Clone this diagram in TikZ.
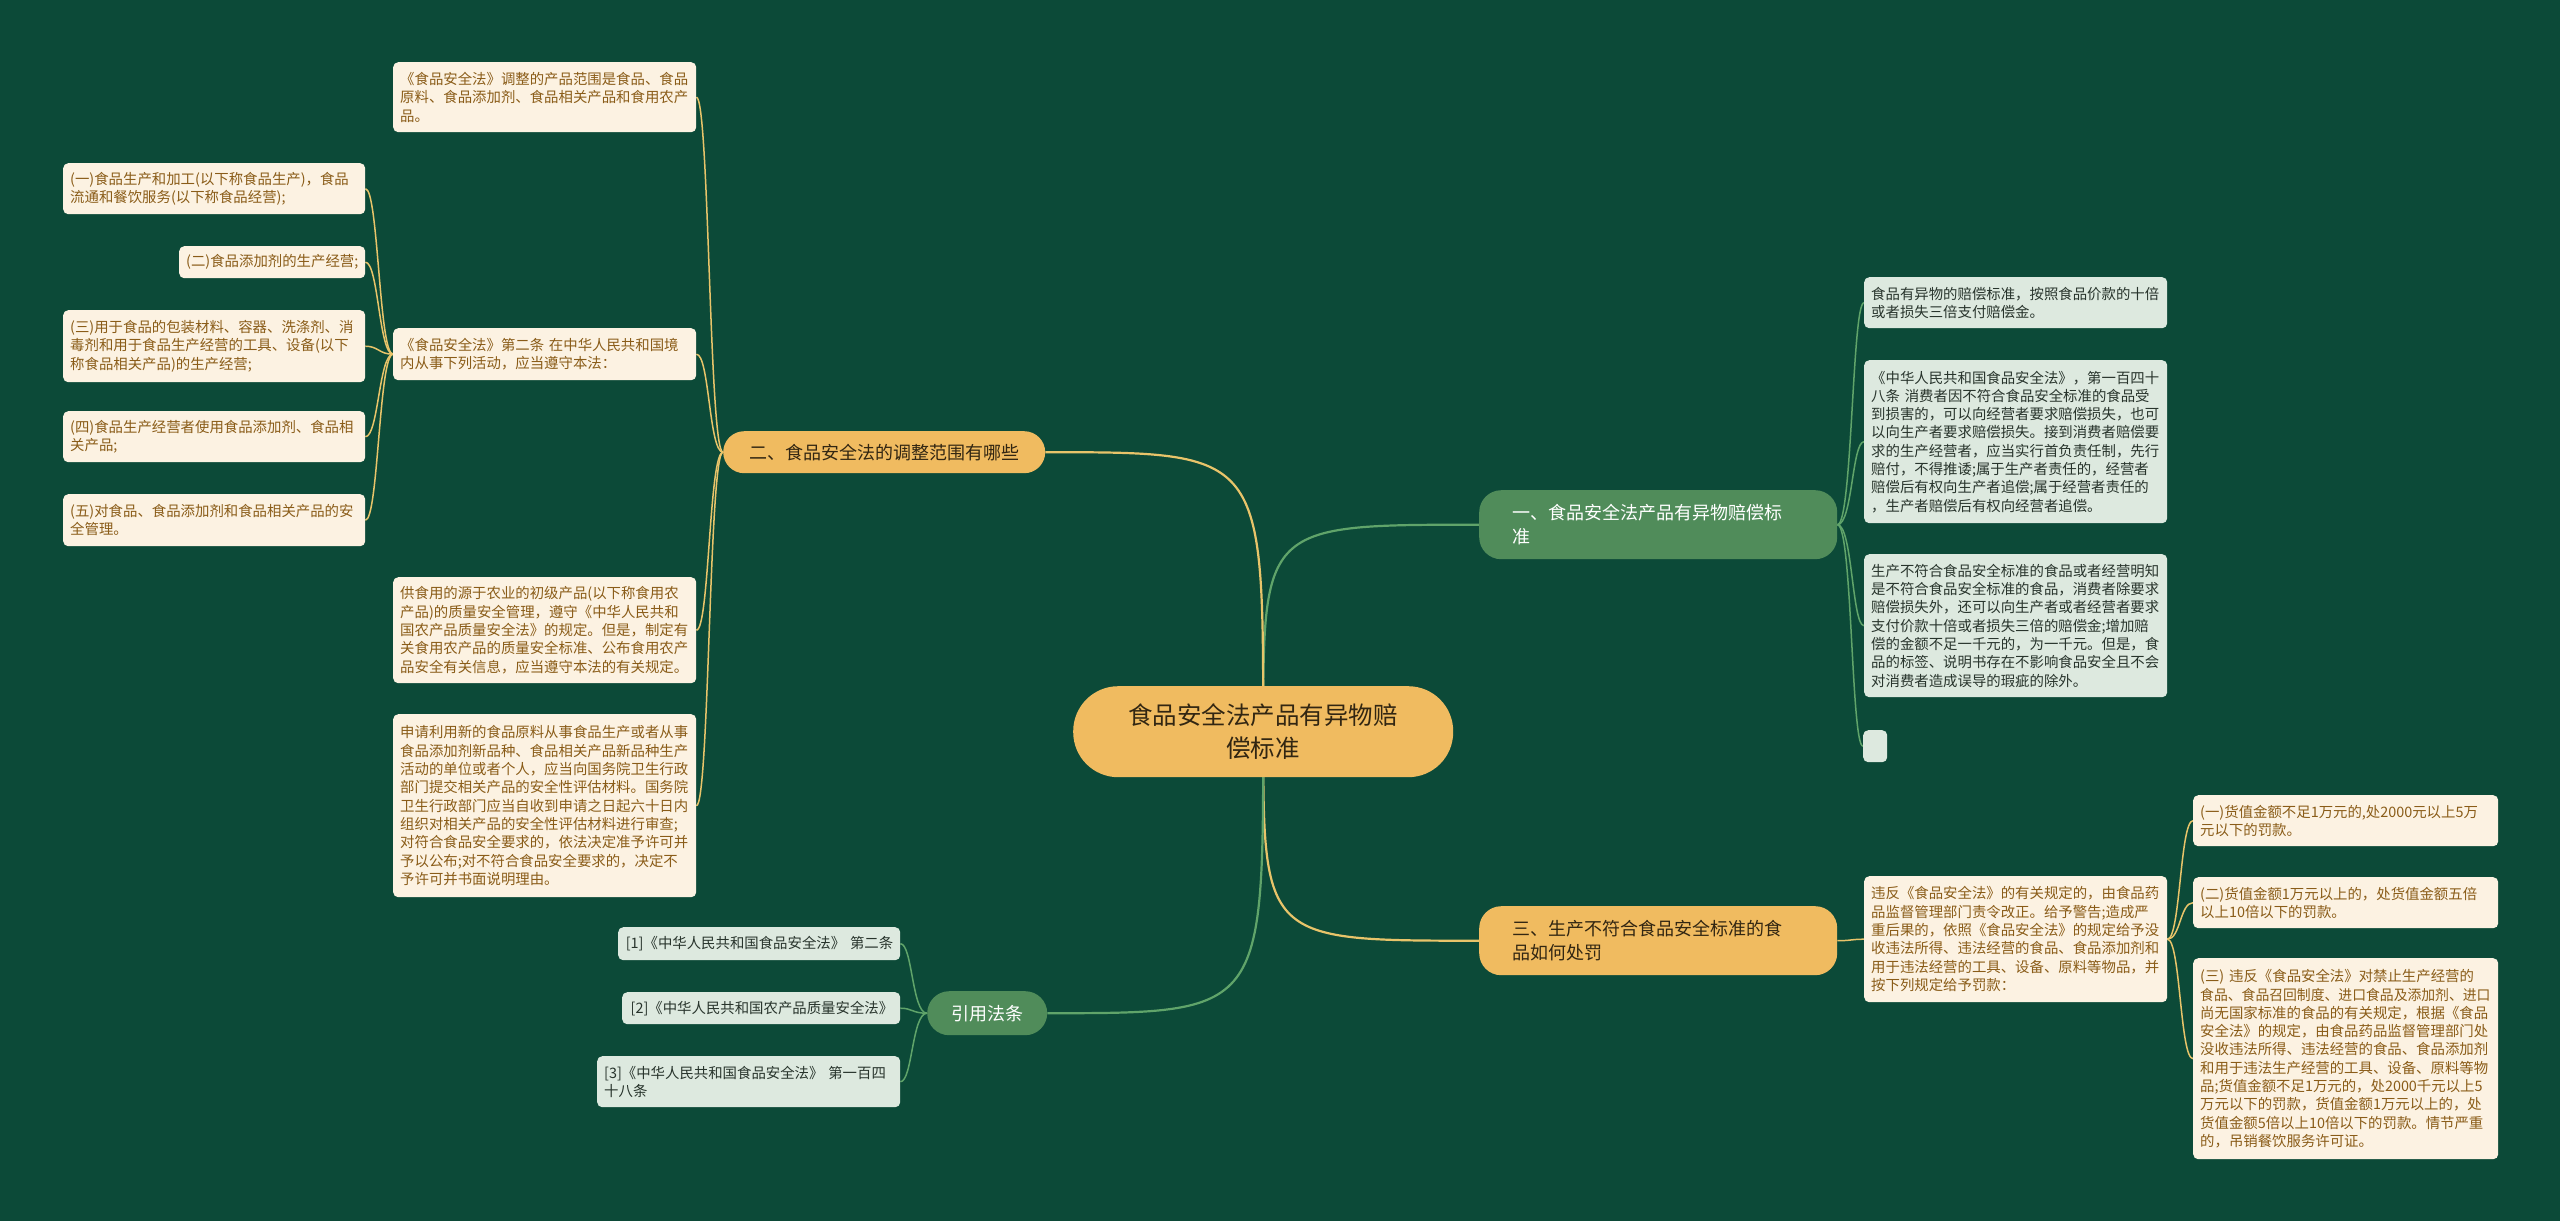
\documentclass[tikz,border=0pt]{standalone}
\usepackage{fontspec}
\newfontfamily\cjk{Noto Sans CJK SC}
\definecolor{bgc}{RGB}{12,74,56}
\definecolor{orc}{RGB}{240,187,96}
\definecolor{grc}{RGB}{80,140,90}
\definecolor{creamc}{RGB}{252,242,226}
\definecolor{lgc}{RGB}{221,233,223}
\definecolor{brownt}{RGB}{138,92,24}
\definecolor{darkt}{RGB}{40,52,44}
\definecolor{olinec}{RGB}{232,196,106}
\definecolor{glinec}{RGB}{96,164,106}
\definecolor{ctext}{RGB}{50,38,18}
\pgfdeclarelayer{bglayer}
\pgfsetlayers{bglayer,main}
\tikzset{
  leaf/.style={anchor=north west, inner xsep=7pt, inner ysep=0pt, rounded corners=5pt, align=left, font=\cjk\fontsize{14.4}{18.3}\selectfont},
  cream/.style={leaf, fill=creamc, text=brownt},
  lgreen/.style={leaf, fill=lgc, text=darkt},
  branchbox/.style={anchor=north west, inner ysep=0pt, font=\cjk\fontsize{18}{24.5}\selectfont},
  obranch/.style={branchbox, fill=orc, text=ctext},
  gbranch/.style={branchbox, fill=grc, text=white},
  omain/.style={draw=olinec, line width=2.2pt},
  gmain/.style={draw=glinec, line width=2.2pt},
  oleaf/.style={draw=olinec, line width=1.5pt},
  gleaf/.style={draw=glinec, line width=1.5pt},
}
\begin{document}
\begin{tikzpicture}[x=1pt,y=-1pt]
\useasboundingbox (0,0) rectangle (2560,1221);
\begin{pgfonlayer}{bglayer}
\fill[bgc] (0,0) rectangle (2560,1221);
\end{pgfonlayer}

% center
\node[fill=orc, text=ctext, rounded corners=45pt, minimum width=380pt, minimum height=91pt, inner sep=0pt, align=center, font=\cjk\fontsize{24.5}{33}\selectfont, anchor=north west] (C) at (1073,686) {食品安全法产品有异物赔\\偿标准};

% branches
\node[gbranch, text width=292pt, inner xsep=33pt, minimum height=69pt, rounded corners=22pt, align=left] (B1) at (1479,490) {一、食品安全法产品有异物赔偿标\\准};
\node[obranch, text width=300pt, inner xsep=11pt, minimum height=42pt, rounded corners=21pt, align=center] (B2) at (723,431) {二、食品安全法的调整范围有哪些};
\node[obranch, text width=292pt, inner xsep=33pt, minimum height=69pt, rounded corners=22pt, align=left] (B3) at (1479,906) {三、生产不符合食品安全标准的食\\品如何处罚};
\node[gbranch, text width=100pt, inner xsep=10pt, minimum height=44pt, rounded corners=22pt, align=center] (B4) at (927,991) {引用法条};

% left leaves
\node[cream, text width=289pt, minimum height=70pt] (L1) at (393,62) {《食品安全法》调整的产品范围是食品、食品\\原料、食品添加剂、食品相关产品和食用农产\\品。};
\node[cream, text width=289pt, minimum height=52pt] (L2) at (393,328) {《食品安全法》第二条 在中华人民共和国境\\内从事下列活动，应当遵守本法：};
\node[cream, text width=289pt, minimum height=106pt] (L3) at (393,577) {供食用的源于农业的初级产品(以下称食用农\\产品)的质量安全管理，遵守《中华人民共和\\国农产品质量安全法》的规定。但是，制定有\\关食用农产品的质量安全标准、公布食用农产\\品安全有关信息，应当遵守本法的有关规定。};
\node[cream, text width=289pt, minimum height=183pt] (L4) at (393,714) {申请利用新的食品原料从事食品生产或者从事\\食品添加剂新品种、食品相关产品新品种生产\\活动的单位或者个人，应当向国务院卫生行政\\部门提交相关产品的安全性评估材料。国务院\\卫生行政部门应当自收到申请之日起六十日内\\组织对相关产品的安全性评估材料进行审查;\\对符合食品安全要求的，依法决定准予许可并\\予以公布;对不符合食品安全要求的，决定不\\予许可并书面说明理由。};

\node[cream, text width=288pt, minimum height=51pt] (S1) at (63,163) {(一)食品生产和加工(以下称食品生产)，食品\\流通和餐饮服务(以下称食品经营);};
\node[cream, text width=172pt, minimum height=32pt, align=right] (S2) at (179,246) {(二)食品添加剂的生产经营;};
\node[cream, text width=288pt, minimum height=72pt] (S3) at (63,310) {(三)用于食品的包装材料、容器、洗涤剂、消\\毒剂和用于食品生产经营的工具、设备(以下\\称食品相关产品)的生产经营;};
\node[cream, text width=288pt, minimum height=51pt] (S4) at (63,411) {(四)食品生产经营者使用食品添加剂、食品相\\关产品;};
\node[cream, text width=288pt, minimum height=52pt] (S5) at (63,494) {(五)对食品、食品添加剂和食品相关产品的安\\全管理。};

% refs
\node[lgreen, text width=268pt, minimum height=33pt, align=right] (R1) at (618,927) {[1]《中华人民共和国食品安全法》 第二条};
\node[lgreen, text width=264pt, minimum height=32pt, align=right] (R2) at (622,992) {[2]《中华人民共和国农产品质量安全法》};
\node[lgreen, text width=289pt, minimum height=51pt] (R3) at (597,1056) {[3]《中华人民共和国食品安全法》 第一百四\\十八条};

% right green leaves
\node[lgreen, text width=289pt, minimum height=51pt] (G1) at (1864,277) {食品有异物的赔偿标准，按照食品价款的十倍\\或者损失三倍支付赔偿金。};
\node[lgreen, text width=289pt, minimum height=163pt] (G2) at (1864,360) {《中华人民共和国食品安全法》，第一百四十\\八条 消费者因不符合食品安全标准的食品受\\到损害的，可以向经营者要求赔偿损失，也可\\以向生产者要求赔偿损失。接到消费者赔偿要\\求的生产经营者，应当实行首负责任制，先行\\赔付，不得推诿;属于生产者责任的，经营者\\赔偿后有权向生产者追偿;属于经营者责任的\\，生产者赔偿后有权向经营者追偿。};
\node[lgreen, text width=289pt, minimum height=143pt] (G3) at (1864,554) {生产不符合食品安全标准的食品或者经营明知\\是不符合食品安全标准的食品，消费者除要求\\赔偿损失外，还可以向生产者或者经营者要求\\支付价款十倍或者损失三倍的赔偿金;增加赔\\偿的金额不足一千元的，为一千元。但是，食\\品的标签、说明书存在不影响食品安全且不会\\对消费者造成误导的瑕疵的除外。};
\node[lgreen, text width=10pt, minimum height=32pt] (G4) at (1863,730) {};

% right orange leaves
\node[cream, text width=289pt, minimum height=126pt] (O1) at (1864,876) {违反《食品安全法》的有关规定的，由食品药\\品监督管理部门责令改正。给予警告;造成严\\重后果的，依照《食品安全法》的规定给予没\\收违法所得、违法经营的食品、食品添加剂和\\用于违法经营的工具、设备、原料等物品，并\\按下列规定给予罚款：};
\node[cream, text width=291pt, minimum height=51pt] (P1) at (2193,795) {(一)货值金额不足1万元的,处2000元以上5万\\元以下的罚款。};
\node[cream, text width=291pt, minimum height=51pt] (P2) at (2193,877) {(二)货值金额1万元以上的，处货值金额五倍\\以上10倍以下的罚款。};
\node[cream, text width=291pt, minimum height=201pt] (P3) at (2193,958) {(三) 违反《食品安全法》对禁止生产经营的\\\scalebox{0.96}[1]{食品、食品召回制度、进口食品及添加剂、进口}\\尚无国家标准的食品的有关规定，根据《食品\\安全法》的规定，由食品药品监督管理部门处\\没收违法所得、违法经营的食品、食品添加剂\\和用于违法生产经营的工具、设备、原料等物\\品;货值金额不足1万元的，处2000千元以上5\\万元以下的罚款，货值金额1万元以上的，处\\货值金额5倍以上10倍以下的罚款。情节严重\\的，吊销餐饮服务许可证。};

\begin{pgfonlayer}{bglayer}
% main connectors
\draw[gmain] (C.center) .. controls (C.center |- B1.west) .. (B1.west);
\draw[omain] (C.center) .. controls (C.center |- B2.east) .. (B2.east);
\draw[omain] (C.center) .. controls (C.center |- B3.west) .. (B3.west);
\draw[gmain] (C.center) .. controls (C.center |- B4.east) .. (B4.east);
% branch 2
\foreach \n in {L1,L2,L3,L4}
  \draw[oleaf] (B2.west) .. controls +(-14,0) and +(13,0) .. (\n.east);
\foreach \n in {S1,S2,S3,S4,S5}
  \draw[oleaf] (L2.west) .. controls +(-14,0) and +(13,0) .. (\n.east);
% branch 1
\foreach \n in {G1,G2,G3,G4}
  \draw[gleaf] (B1.east) .. controls +(15,0) and +(-12,0) .. (\n.west);
% branch 3
\draw[oleaf] (B3.east) .. controls +(14,0) and +(-13,0) .. (O1.west);
\foreach \n in {P1,P2,P3}
  \draw[oleaf] (O1.east) .. controls +(13,0) and +(-13,0) .. (\n.west);
% branch 4
\foreach \n in {R1,R2,R3}
  \draw[gleaf] (B4.west) .. controls +(-15,0) and +(12,0) .. (\n.east);
\end{pgfonlayer}
\end{tikzpicture}
\end{document}
